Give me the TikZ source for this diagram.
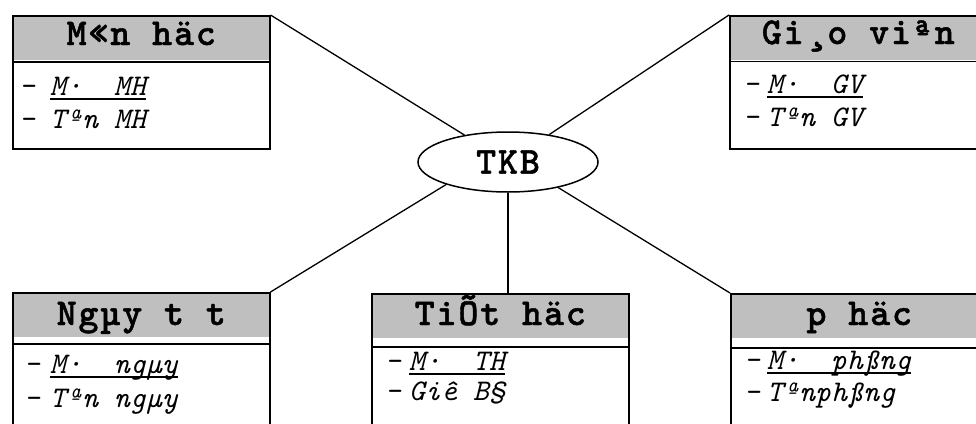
\documentclass[tikz,border=0pt]{standalone}
\usepackage{fontspec}
\usetikzlibrary{positioning,shapes.geometric}
\newfontfamily\titlefont{lmmonolt10-bold.otf}[LetterSpace=5,FakeBold=1.2]
\newfontfamily\attrfont{lmmono10-italic.otf}[LetterSpace=1]
\tikzset{>=stealth}
\tikzset{
    box/.style={draw, line width=1.5pt, anchor=north west, minimum width=257pt,
        minimum height=#1, inner sep=0pt,
        path picture={\fill[gray!50] (path picture bounding box.north west)
            rectangle ([yshift=-44pt]path picture bounding box.north east);}},
    title/.style={anchor=base, inner sep=0pt, font=\titlefont\fontsize{38}{38}\selectfont},
    attr/.style={anchor=base west, inner sep=0pt, font=\attrfont\fontsize{30}{30}\selectfont},
    sep/.style={line width=1.5pt},
    link/.style={line width=1.3pt},
}

\begin{document}
\begin{tikzpicture}[x=1pt,y=-1pt]
    \useasboundingbox (0,0) rectangle (976,423);
    % centre
    \node[ellipse, draw, line width=1.5pt, minimum width=180pt, minimum height=60pt,
        inner sep=0pt, font=\titlefont\fontsize{38}{38}\selectfont] (tkb) at (508,162) {TKB};
    % Mon hoc
    \node[box=133pt] (mh) at (12,15) {};
    \draw[sep] ([yshift=-47pt]mh.north west) -- ([yshift=-47pt]mh.north east);
    \node[title] (mhT) at ([yshift=-30pt]mh.north) {M«n häc};
    \node[attr] (mhD1) at ([shift={(7pt,-80pt)}]mh.north west) {-};
    \node[attr] (mhK) at ([shift={(38pt,-80pt)}]mh.north west) {M·\ \ MH};
    \node[attr] (mhD2) at ([shift={(7pt,-113pt)}]mh.north west) {-};
    \node[attr] (mhA) at ([shift={(38pt,-113pt)}]mh.north west) {Tªn MH};
    \draw[sep] ([yshift=-4pt]mhK.base west) -- ([yshift=-4pt]mhK.base east);
    % Giao vien
    \node[box=133pt] (gv) at (729,15) {};
    \draw[sep] ([yshift=-46.5pt]gv.north west) -- ([yshift=-46.5pt]gv.north east);
    \node[title] (gvT) at ([yshift=-29pt]gv.north) {Gi¸o viªn};
    \node[attr] (gvD1) at ([shift={(14pt,-78pt)}]gv.north west) {-};
    \node[attr] (gvK) at ([shift={(38pt,-78pt)}]gv.north west) {M·\ \ GV};
    \node[attr] (gvD2) at ([shift={(14pt,-111pt)}]gv.north west) {-};
    \node[attr] (gvA) at ([shift={(38pt,-111pt)}]gv.north west) {Tªn GV};
    \draw[sep] ([yshift=-4pt]gvK.base west) -- ([yshift=-4pt]gvK.base east);
    % Ngay
    \node[box=160pt] (ng) at (12,292) {};
    \draw[sep] ([yshift=-52pt]ng.north west) -- ([yshift=-52pt]ng.north east);
    \node[title] (ngT) at ([yshift=-33pt]ng.north) {Ngµy t t};
    \node[attr] (ngD1) at ([shift={(12pt,-81pt)}]ng.north west) {-};
    \node[attr] (ngK) at ([shift={(38pt,-81pt)}]ng.north west) {M·\ \ ngµy};
    \node[attr] (ngD2) at ([shift={(12pt,-115pt)}]ng.north west) {-};
    \node[attr] (ngA) at ([shift={(38pt,-115pt)}]ng.north west) {Tªn ngµy};
    \draw[sep] ([yshift=-4pt]ngK.base west) -- ([yshift=-4pt]ngK.base east);
    % Tiet hoc
    \node[box=160pt] (th) at (371,293) {};
    \draw[sep] ([yshift=-54pt]th.north west) -- ([yshift=-54pt]th.north east);
    \node[title] (thT) at ([yshift=-32pt]th.north) {TiÕt häc};
    \node[attr] (thD1) at ([shift={(14pt,-77pt)}]th.north west) {-};
    \node[attr] (thK) at ([shift={(38pt,-77pt)}]th.north west) {M·\ \ TH};
    \node[attr] (thD2) at ([shift={(14pt,-107pt)}]th.north west) {-};
    \node[attr] (thA) at ([shift={(38pt,-107pt)}]th.north west) {Giê B§};
    \draw[sep] ([yshift=-4pt]thK.base west) -- ([yshift=-4pt]thK.base east);
    % Phong hoc
    \node[box=160pt] (ph) at (730,293) {};
    \draw[sep] ([yshift=-55pt]ph.north west) -- ([yshift=-55pt]ph.north east);
    \node[title] (phT) at ([yshift=-32pt]ph.north) {p häc};
    \node[attr] (phD1) at ([shift={(14pt,-76pt)}]ph.north west) {-};
    \node[attr] (phK) at ([shift={(37pt,-76pt)}]ph.north west) {M·\ \ phßng};
    \node[attr] (phD2) at ([shift={(14pt,-108pt)}]ph.north west) {-};
    \node[attr] (phA) at ([shift={(37pt,-108pt)}]ph.north west) {Tªnphßng};
    \draw[sep] ([yshift=-4pt]phK.base west) -- ([yshift=-4pt]phK.base east);
    % links
    \draw[link] (mh.north east) -- (tkb);
    \draw[link] (gv.north west) -- (tkb);
    \draw[link] (ng.north east) -- (tkb.200);
    \draw[link] (ph.north west) -- (tkb.333);
    \draw[link] (tkb.south) -- (tkb.south |- th.north);
\end{tikzpicture}
\end{document}
